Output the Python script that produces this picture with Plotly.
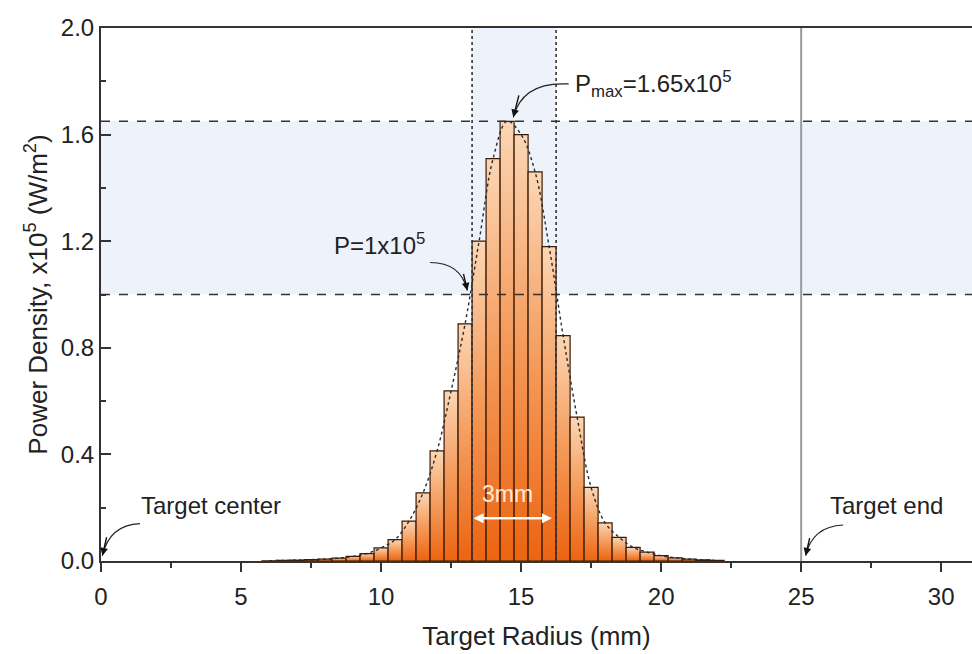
import plotly.graph_objects as go

# ---- data ----
radius_mm = [6.0, 6.5, 7.0, 7.5, 8.0, 8.5, 9.0, 9.5, 10.0, 10.5, 11.0, 11.5, 12.0, 12.5,
             13.0, 13.5, 14.0, 14.5, 15.0, 15.5, 16.0, 16.5, 17.0, 17.5, 18.0, 18.5,
             19.0, 19.5, 20.0, 20.5, 21.0, 21.5, 22.0]
power_density = [0.001, 0.002, 0.003, 0.005, 0.007, 0.011, 0.017, 0.028, 0.049, 0.080,
                 0.150, 0.256, 0.413, 0.638, 0.890, 1.20, 1.51, 1.65, 1.60, 1.46, 1.18,
                 0.846, 0.54, 0.276, 0.143, 0.089, 0.051, 0.033, 0.020, 0.012, 0.007,
                 0.004, 0.002]
bar_width = 0.5
p_max = 1.65
p_ref = 1.0
window = [13.25, 16.25]
target_end = 25.0
x_range = [0, 31.1]
y_range = [0, 2.0]
x_ticks = [0, 5, 10, 15, 20, 25, 30]
y_ticks = [0, 0.4, 0.8, 1.2, 1.6, 2.0]

FONT = "Liberation Sans, Arial, sans-serif"
TXT = "#222222"

fig = go.Figure()

# per-bar vertical gradient fill with dark outline
for c, v in zip(radius_mm, power_density):
    fig.add_trace(go.Scatter(
        x=[c - bar_width / 2, c - bar_width / 2, c + bar_width / 2, c + bar_width / 2, c - bar_width / 2],
        y=[0, v, v, 0, 0], mode="lines", fill="toself",
        line=dict(color="#3b1a06", width=1.2),
        fillgradient=dict(type="vertical", start=0, stop=v,
                          colorscale=[[0, "#ec6410"], [0.5, "#f49a5a"], [1, "#fcd6b4"]]),
        hoverinfo="skip", showlegend=False))

# dotted fitted curve
fig.add_trace(go.Scatter(x=radius_mm, y=power_density, mode="lines",
                         line=dict(color="#2a2a2a", width=1.4, dash="dot", shape="spline"),
                         hoverinfo="skip", showlegend=False))

shapes = []
# light blue bands
shapes.append(dict(type="rect", xref="x", yref="y", x0=x_range[0], x1=x_range[1], y0=p_ref, y1=p_max,
                   fillcolor="#eef3fb", line_width=0, layer="below"))
shapes.append(dict(type="rect", xref="x", yref="y", x0=window[0], x1=window[1], y0=p_max, y1=y_range[1],
                   fillcolor="#eef3fb", line_width=0, layer="below"))
# dashed horizontal lines
for yv in (p_ref, p_max):
    shapes.append(dict(type="line", xref="x", yref="y", x0=x_range[0], x1=x_range[1], y0=yv, y1=yv,
                       line=dict(color="#333333", width=1.6, dash="dash"), layer="above"))
# dotted vertical lines
for xv in window:
    shapes.append(dict(type="line", xref="x", yref="y", x0=xv, x1=xv, y0=y_range[0], y1=y_range[1],
                       line=dict(color="#333333", width=1.6, dash="dot"), layer="above"))
# target end
shapes.append(dict(type="line", xref="x", yref="y", x0=target_end, x1=target_end, y0=y_range[0], y1=y_range[1],
                   line=dict(color="#9a9a9a", width=2), layer="above"))

# curved arrows: (start, control, tip)
curves = [
    ((16.70, 1.79), (15.05, 1.80), (14.72, 1.665)),
    ((11.75, 1.12), (12.85, 1.12), (13.08, 1.015)),
    ((1.39, 0.14), (0.30, 0.135), (0.05, 0.02)),
    ((26.50, 0.135), (25.40, 0.13), (25.16, 0.02)),
]
annotations = []
for (s, q, t) in curves:
    shapes.append(dict(type="path", xref="x", yref="y",
                       path=f"M {s[0]},{s[1]} Q {q[0]},{q[1]} {t[0]},{t[1]}",
                       line=dict(color="#222222", width=1.2), layer="above"))
    annotations.append(dict(x=t[0], y=t[1], ax=q[0] + (t[0] - q[0]) * 0.35, ay=q[1] + (t[1] - q[1]) * 0.35,
                            axref="x", ayref="y", xref="x", yref="y", text="", showarrow=True,
                            arrowhead=2, arrowsize=1.1, arrowwidth=1.4, arrowcolor="#111111"))

labels = [
    (16.85, 1.79, "P<sub>max</sub>=1.65x10<sup>5</sup>", "left"),
    (8.25, 1.19, "P=1x10<sup>5</sup>", "left"),
    (1.35, 0.21, "Target center", "left"),
    (25.95, 0.21, "Target end", "left"),
]
for x, y, t, anc in labels:
    annotations.append(dict(x=x, y=y, xref="x", yref="y", text=t, showarrow=False, xanchor=anc,
                            font=dict(family=FONT, size=24, color=TXT)))

# 3mm arrow
annotations.append(dict(x=window[0] + 0.05, y=0.16, ax=window[1] - 0.15, ay=0.16, axref="x", ayref="y",
                        xref="x", yref="y", text="", showarrow=True, arrowhead=2, arrowsize=1,
                        arrowwidth=2, arrowcolor="#ffffff"))
annotations.append(dict(x=window[1] - 0.15, y=0.16, ax=window[0] + 0.05, ay=0.16, axref="x", ayref="y",
                        xref="x", yref="y", text="", showarrow=True, arrowhead=2, arrowsize=1,
                        arrowwidth=2, arrowcolor="#ffffff"))
annotations.append(dict(x=14.5, y=0.25, xref="x", yref="y", text="3mm", showarrow=False,
                        font=dict(family=FONT, size=23, color="#ffe9d6")))

fig.update_layout(
    width=972, height=654, margin=dict(l=101, r=0, t=28, b=93),
    paper_bgcolor="white", plot_bgcolor="white", showlegend=False,
    shapes=shapes, annotations=annotations,
    font=dict(family=FONT, color=TXT),
    xaxis=dict(range=x_range, tickvals=x_ticks, ticks="outside", ticklen=9,
               tickwidth=1.5, tickcolor="#333", showline=True, linecolor="#333", linewidth=2,
               mirror=True, showgrid=False, zeroline=False, ticklabelstandoff=4,
               minor=dict(dtick=2.5, ticks="outside", ticklen=5, tickcolor="#333", tickwidth=1.5),
               tickfont=dict(size=24, family=FONT, color=TXT),
               title=dict(text="Target Radius (mm)", font=dict(size=26, family=FONT, color=TXT), standoff=18)),
    yaxis=dict(range=y_range, tickvals=y_ticks, tickformat=".1f", ticks="inside",
               ticklen=10, tickwidth=1.5, tickcolor="#333", showline=True, linecolor="#333", linewidth=2,
               showgrid=False, zeroline=False,
               minor=dict(dtick=0.2, ticks="inside", ticklen=5, tickcolor="#333", tickwidth=1.5),
               tickfont=dict(size=24, family=FONT, color=TXT),
               title=dict(text="Power Density, x10<sup>5</sup> (W/m<sup>2</sup>)",
                          font=dict(size=26, family=FONT, color=TXT), standoff=6)),
)

fig.write_html("out.html")
